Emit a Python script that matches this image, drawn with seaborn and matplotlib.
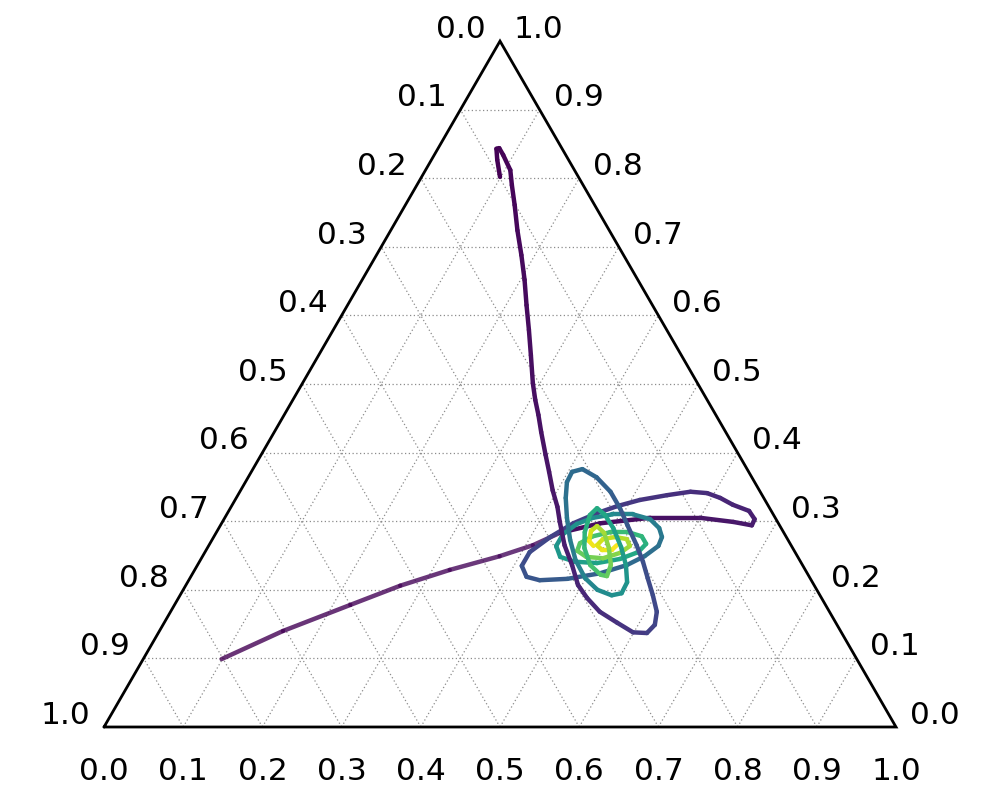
import numpy as np
import pandas as pd
import matplotlib
matplotlib.use("Agg")
import matplotlib.pyplot as plt
import seaborn as sns

sns.set_style("white")
plt.rcParams['font.family'] = ['DejaVu Sans']
plt.rcParams['text.color'] = 'black'

# ---- data (ternary coordinates: bottom-axis value a, right-axis value b; c = 1 - a - b) ----
traj1_bottom = [0.099, 0.083, 0.074, 0.077, 0.087, 0.107, 0.120, 0.138, 0.160, 0.183,
                0.205, 0.226, 0.247, 0.268, 0.291, 0.306, 0.321, 0.337, 0.359, 0.376,
                0.394, 0.412, 0.426, 0.449, 0.473, 0.495, 0.516, 0.542, 0.572, 0.599,
                0.617, 0.621, 0.614, 0.597, 0.578, 0.560, 0.540, 0.514, 0.492, 0.468,
                0.440, 0.416, 0.405, 0.406, 0.416, 0.432, 0.452, 0.474, 0.499, 0.523,
                0.545, 0.556, 0.555, 0.541, 0.522, 0.498, 0.477, 0.463, 0.459, 0.465,
                0.476, 0.496, 0.516, 0.525, 0.522, 0.507, 0.490, 0.476, 0.472, 0.477,
                0.486]
traj1_right = [0.802, 0.827, 0.843, 0.844, 0.834, 0.812, 0.790, 0.761, 0.724, 0.688,
               0.652, 0.615, 0.579, 0.542, 0.501, 0.477, 0.455, 0.430, 0.397, 0.372,
               0.345, 0.321, 0.299, 0.265, 0.236, 0.207, 0.188, 0.168, 0.152, 0.138,
               0.137, 0.149, 0.168, 0.192, 0.217, 0.241, 0.265, 0.294, 0.319, 0.343,
               0.364, 0.376, 0.372, 0.357, 0.334, 0.305, 0.273, 0.243, 0.217, 0.200,
               0.192, 0.195, 0.211, 0.236, 0.262, 0.290, 0.310, 0.319, 0.309, 0.284,
               0.261, 0.236, 0.222, 0.220, 0.236, 0.261, 0.283, 0.293, 0.286, 0.271,
               0.264]
traj1_time = [0.000, 0.003, 0.005, 0.007, 0.009, 0.011, 0.013, 0.016, 0.019, 0.022,
              0.025, 0.028, 0.031, 0.034, 0.037, 0.040, 0.043, 0.046, 0.050, 0.054,
              0.058, 0.062, 0.070, 0.080, 0.090, 0.100, 0.110, 0.120, 0.140, 0.160,
              0.180, 0.200, 0.210, 0.220, 0.230, 0.240, 0.250, 0.270, 0.280, 0.300,
              0.320, 0.340, 0.350, 0.360, 0.370, 0.390, 0.410, 0.430, 0.450, 0.470,
              0.490, 0.500, 0.510, 0.530, 0.550, 0.570, 0.590, 0.600, 0.620, 0.640,
              0.660, 0.690, 0.720, 0.750, 0.780, 0.810, 0.850, 0.880, 0.920, 0.960,
              1.000]

traj2_bottom = [0.099, 0.156, 0.222, 0.271, 0.322, 0.375, 0.409, 0.434, 0.478, 0.537,
                0.600, 0.645, 0.671, 0.670, 0.657, 0.632, 0.611, 0.591, 0.569, 0.542,
                0.511, 0.487, 0.467, 0.444, 0.425, 0.410, 0.410, 0.424, 0.443, 0.477,
                0.514, 0.542, 0.558, 0.568, 0.566, 0.556, 0.538, 0.513, 0.487, 0.465,
                0.449, 0.439, 0.439, 0.452, 0.474, 0.503, 0.529, 0.547, 0.551, 0.540,
                0.520, 0.497, 0.478, 0.467, 0.469, 0.485, 0.507, 0.525, 0.532, 0.523,
                0.507, 0.493, 0.490, 0.500, 0.512, 0.515]
traj2_right = [0.099, 0.140, 0.178, 0.206, 0.229, 0.249, 0.265, 0.283, 0.297, 0.305,
               0.305, 0.299, 0.294, 0.303, 0.315, 0.324, 0.334, 0.341, 0.343, 0.338,
               0.331, 0.322, 0.312, 0.297, 0.277, 0.255, 0.235, 0.219, 0.214, 0.216,
               0.224, 0.236, 0.249, 0.264, 0.277, 0.290, 0.303, 0.310, 0.310, 0.305,
               0.296, 0.281, 0.264, 0.248, 0.241, 0.239, 0.245, 0.255, 0.267, 0.278,
               0.284, 0.284, 0.278, 0.268, 0.257, 0.248, 0.246, 0.254, 0.264, 0.274,
               0.277, 0.274, 0.265, 0.258, 0.258, 0.265]
traj2_time = [0.000, 0.005, 0.010, 0.013, 0.016, 0.020, 0.025, 0.030, 0.035, 0.040,
              0.050, 0.060, 0.070, 0.080, 0.090, 0.100, 0.110, 0.120, 0.130, 0.140,
              0.155, 0.170, 0.180, 0.190, 0.200, 0.220, 0.240, 0.260, 0.270, 0.290,
              0.310, 0.330, 0.350, 0.370, 0.390, 0.410, 0.430, 0.450, 0.470, 0.490,
              0.500, 0.510, 0.520, 0.540, 0.550, 0.570, 0.590, 0.610, 0.630, 0.650,
              0.670, 0.690, 0.710, 0.730, 0.750, 0.780, 0.800, 0.830, 0.860, 0.880,
              0.900, 0.920, 0.940, 0.960, 0.980, 1.000]

tick_values = [0.0, 0.1, 0.2, 0.3, 0.4, 0.5, 0.6, 0.7, 0.8, 0.9, 1.0]
tick_labels = ["0.0", "0.1", "0.2", "0.3", "0.4", "0.5", "0.6", "0.7", "0.8", "0.9", "1.0"]

# ---- helpers ----
H = np.sqrt(3) / 2


def to_xy(a, b):
    a = np.asarray(a, float)
    b = np.asarray(b, float)
    return a + b / 2.0, b * H


def segments_frame(a, b, t, tag):
    x, y = to_xy(a, b)
    rows = []
    for i in range(len(x) - 1):
        tm = 0.5 * (t[i] + t[i + 1])
        rows.append((f"{tag}{i}", x[i], y[i], tm))
        rows.append((f"{tag}{i}", x[i + 1], y[i + 1], tm))
    return pd.DataFrame(rows, columns=["seg", "x", "y", "t"])


fig = plt.figure(figsize=(10, 8), dpi=100)
ax = fig.add_axes([0, 0, 1, 1])
px = 792.0
ax.set_xlim(-104 / px, (1000 - 104) / px)
ax.set_ylim(-(800 - 727) / px, 727 / px)
ax.set_axis_off()

# gridlines (dotted)
grid_kw = dict(color="#8c8c8c", lw=0.9, ls=(0, (1, 2)), zorder=1)
for v in tick_values[1:-1]:
    x, y = to_xy([0, 1 - v], [v, v])
    ax.plot(x, y, **grid_kw)
    x, y = to_xy([v, v], [0, 1 - v])
    ax.plot(x, y, **grid_kw)
    x, y = to_xy([1 - v, 0], [0, 1 - v])
    ax.plot(x, y, **grid_kw)

# boundary
bx, by = to_xy([0, 1, 0, 0], [0, 0, 1, 0])
ax.plot(bx, by, color="black", lw=2.0, zorder=3, solid_joinstyle="miter")

# trajectories coloured by time
df1 = segments_frame(traj1_bottom, traj1_right, traj1_time, "a")
df2 = segments_frame(traj2_bottom, traj2_right, traj2_time, "b")
fast = df2["seg"].isin([f"b{i}" for i in range(7)])
line_kw = dict(x="x", y="y", hue="t", units="seg", estimator=None, sort=False,
               palette="viridis", hue_norm=(0, 1), legend=False, ax=ax,
               linewidth=3.2, solid_capstyle="round", zorder=4)
sns.lineplot(data=df2[fast], alpha=0.8, **line_kw)
sns.lineplot(data=df2[~fast], **line_kw)
sns.lineplot(data=df1, **line_kw)

# tick labels
fs = 22.5
for v, lab in zip(tick_values, tick_labels):
    x, y = to_xy([v], [0])
    ax.annotate(lab, (x[0], y[0]), xytext=(0, -32.4), textcoords="offset points",
                ha="center", va="center", fontsize=fs, color="black")
    x, y = to_xy([1 - v], [v])
    ax.annotate(lab, (x[0], y[0]), xytext=(28, 8.5), textcoords="offset points",
                ha="center", va="center", fontsize=fs, color="black")
    x, y = to_xy([0], [1 - v])
    ax.annotate(lab, (x[0], y[0]), xytext=(-28, 8.5), textcoords="offset points",
                ha="center", va="center", fontsize=fs, color="black")

fig.savefig("out.png", dpi=100, facecolor="white")
